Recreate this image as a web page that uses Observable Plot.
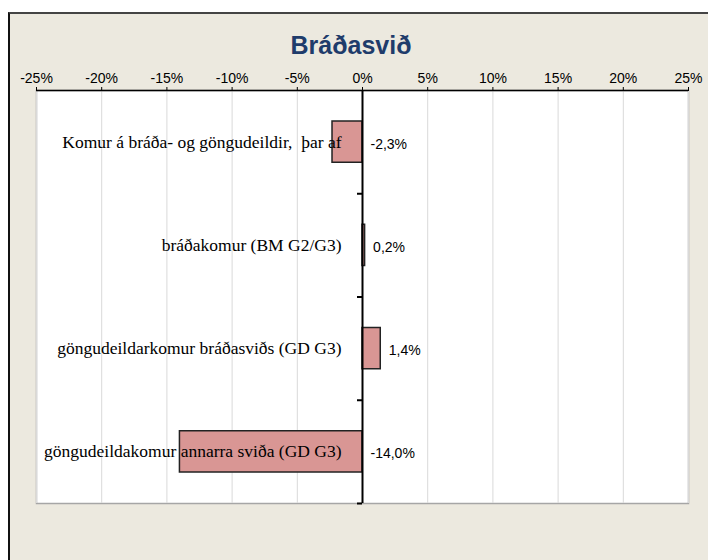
<!DOCTYPE html>
<html>
<head>
<meta charset="utf-8">
<script src="https://cdn.jsdelivr.net/npm/d3@7"></script>
<script src="https://cdn.jsdelivr.net/npm/@observablehq/plot@0.6"></script>
<style>
  body { margin: 0; background: #ffffff; }
  #wrap { position: absolute; left: 8px; top: 12px; width: 698px; height: 546px;
          background: #ECE9DF; border-top: 2px solid #444444; border-left: 2px solid #111111; }
  #chart { position: absolute; left: 0; top: 0; }
  #title { position: absolute; left: 141px; top: 19px; width: 400px; text-align: center;
           font: bold 25px "Liberation Sans", Arial, sans-serif; line-height: 25px; color: #1F3C6B; z-index: 2; }
</style>
</head>
<body>
<div id="wrap">
  <div id="title">Bráðasvið</div>
  <div id="chart"></div>
</div>
<script>
const titleText = "Bráðasvið";
const categories = [
  "Komur á bráða- og göngudeildir,  þar af",
  "bráðakomur (BM G2/G3)",
  "göngudeildarkomur bráðasviðs (GD G3)",
  "göngudeildakomur annarra sviða (GD G3)"
];
const values = [-2.3, 0.2, 1.4, -14.0];
const ticks = [-25, -20, -15, -10, -5, 0, 5, 10, 15, 20, 25];

document.getElementById("title").textContent = titleText;

const rows = categories.map((c, i) => ({category: c, value: values[i], i}));
const fmt = v => v.toFixed(1).replace(".", ",") + "%";

const chart = Plot.plot({
  width: 698,
  height: 546,
  marginLeft: 26,
  marginRight: 20,
  marginTop: 76,
  marginBottom: 57,
  style: {background: "transparent", fontFamily: "Liberation Sans, Arial, sans-serif", fontSize: "14px", color: "#000", overflow: "visible"},
  x: {domain: [-25, 25], axis: null, label: null},
  y: {domain: [0, categories.length], reverse: true, axis: null, label: null},
  marks: [
    Plot.frame({fill: "#ffffff", stroke: "#A6A6A6", strokeWidth: 1.5}),
    Plot.ruleX(ticks, {x: d => d, stroke: "#D9D9D9", strokeWidth: 1}),
    Plot.axisX({anchor: "top", ticks: ticks, tickSize: 4, tickPadding: 4, tickFormat: d => d + "%", fontSize: 14, stroke: "#000", label: null}),
    Plot.ruleY([0], {y: d => d, stroke: "#000", strokeWidth: 1.5}),
    Plot.rect(rows, {x1: d => 0, x2: "value", y1: "i", y2: d => d.i + 1, insetTop: 31, insetBottom: 31,
                     fill: "#D99694", stroke: "#222222", strokeWidth: 1.5}),
    Plot.ruleX([0], {x: d => d, stroke: "#000", strokeWidth: 2}),
    Plot.ruleY(d3.range(1, categories.length + 1), {y: d => d, x1: d => 0, x2: d => 0, insetLeft: -5, stroke: "#000", strokeWidth: 2}),
    Plot.text(rows, {x: d => 0, y: d => d.i + 0.5, text: "category", textAnchor: "end", dx: -21,
                     fontFamily: "Liberation Serif, Times New Roman, serif", fontSize: 17.5, fill: "#000"}),
    Plot.text(rows, {x: d => Math.max(0, d.value), y: d => d.i + 0.5, text: d => fmt(d.value), textAnchor: "start", dx: 8, dy: 2,
                     fontSize: 14, fill: "#000"})
  ]
});
document.getElementById("chart").appendChild(chart);
</script>
</body>
</html>
